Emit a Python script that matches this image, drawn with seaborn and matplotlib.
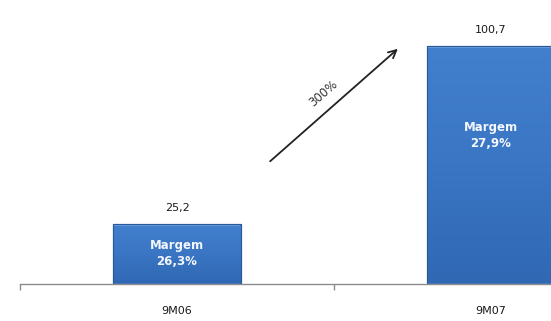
import numpy as np
import pandas as pd
import matplotlib
matplotlib.use("Agg")
import matplotlib.pyplot as plt
import seaborn as sns

# Data
periods = ["9M06", "9M07"]
values = [25.2, 100.7]
margins = ["26,3%", "27,9%"]
margin_label_y = [12.6, 62.5]
growth_label = "300%"

sns.set_theme(style="white")
plt.rcParams["font.family"] = ["DejaVu Sans"]

df = pd.DataFrame({"periodo": periods, "valor": values})

fig = plt.figure(figsize=(5.51, 3.21), dpi=100)
W, H = 551, 321
ax = fig.add_axes([20 / W, 37.5 / H, 628 / W, 283.5 / H])

sns.barplot(data=df, x="periodo", y="valor", color="#3b76c4", width=0.41,
            saturation=1, ax=ax, edgecolor="#2a5896", linewidth=0.8)

ax.set_xlim(-0.5, 1.5)
ax.set_ylim(0, 120.1)

# soft vertical gradient inside each bar
grad = np.linspace(0, 1, 256).reshape(-1, 1)
cmap = matplotlib.colors.LinearSegmentedColormap.from_list(
    "barblue", ["#3068b4", "#3a76c4", "#427fcc"])
for p in ax.patches:
    x0, y0 = p.get_x(), p.get_y()
    w, h = p.get_width(), p.get_height()
    im = ax.imshow(grad, cmap=cmap, aspect="auto", origin="lower",
                   extent=(x0, x0 + w, y0, y0 + h), zorder=p.get_zorder() + 0.1)
    im.set_clip_path(p)
    # light bevel along the top edge
    ax.plot([x0 + 0.005, x0 + w - 0.005], [y0 + h - 0.6, y0 + h - 0.6],
            color="#6fa3e0", lw=1.2, zorder=p.get_zorder() + 0.2, solid_capstyle="butt")
    ax.add_patch(plt.Rectangle((x0, y0), w, h, fill=False, edgecolor="#2a5896",
                               lw=0.8, zorder=p.get_zorder() + 0.3))

# value labels and margin labels
for i, (v, m, my) in enumerate(zip(values, margins, margin_label_y)):
    ax.text(i, v + 4.5, f"{v:.1f}".replace(".", ","), ha="center", va="bottom",
            fontsize=8, color="#1a1a1a")
    ax.text(i, my, f"Margem\n{m}", ha="center", va="center", fontsize=8.5,
            color="#f4f7fc", fontweight="bold", linespacing=1.3, zorder=5)

# growth arrow
ax.annotate("", xy=(0.71, 100.2), xytext=(0.29, 51),
            arrowprops=dict(arrowstyle="->", color="#222222", lw=1.3,
                            mutation_scale=14))
ax.text(0.465, 80.5, growth_label, rotation=41, ha="center", va="center",
        fontsize=8.5, color="#333333", rotation_mode="anchor")

# axes styling
for s in ["top", "right", "left"]:
    ax.spines[s].set_visible(False)
ax.spines["bottom"].set_color("#8c8c8c")
ax.spines["bottom"].set_linewidth(1.0)
ax.set_yticks([])
ax.set_xlabel("")
ax.set_ylabel("")
ax.set_xticks([0, 1])
ax.set_xticklabels(periods, fontsize=8, color="#1a1a1a")
ax.tick_params(axis="x", which="major", length=0, pad=16)
ax.set_xticks([-0.5, 0.5, 1.5], minor=True)
ax.tick_params(axis="x", which="minor", bottom=True, length=4.5, width=1.0,
               color="#8c8c8c", direction="out")

fig.savefig("out.png", dpi=100)
